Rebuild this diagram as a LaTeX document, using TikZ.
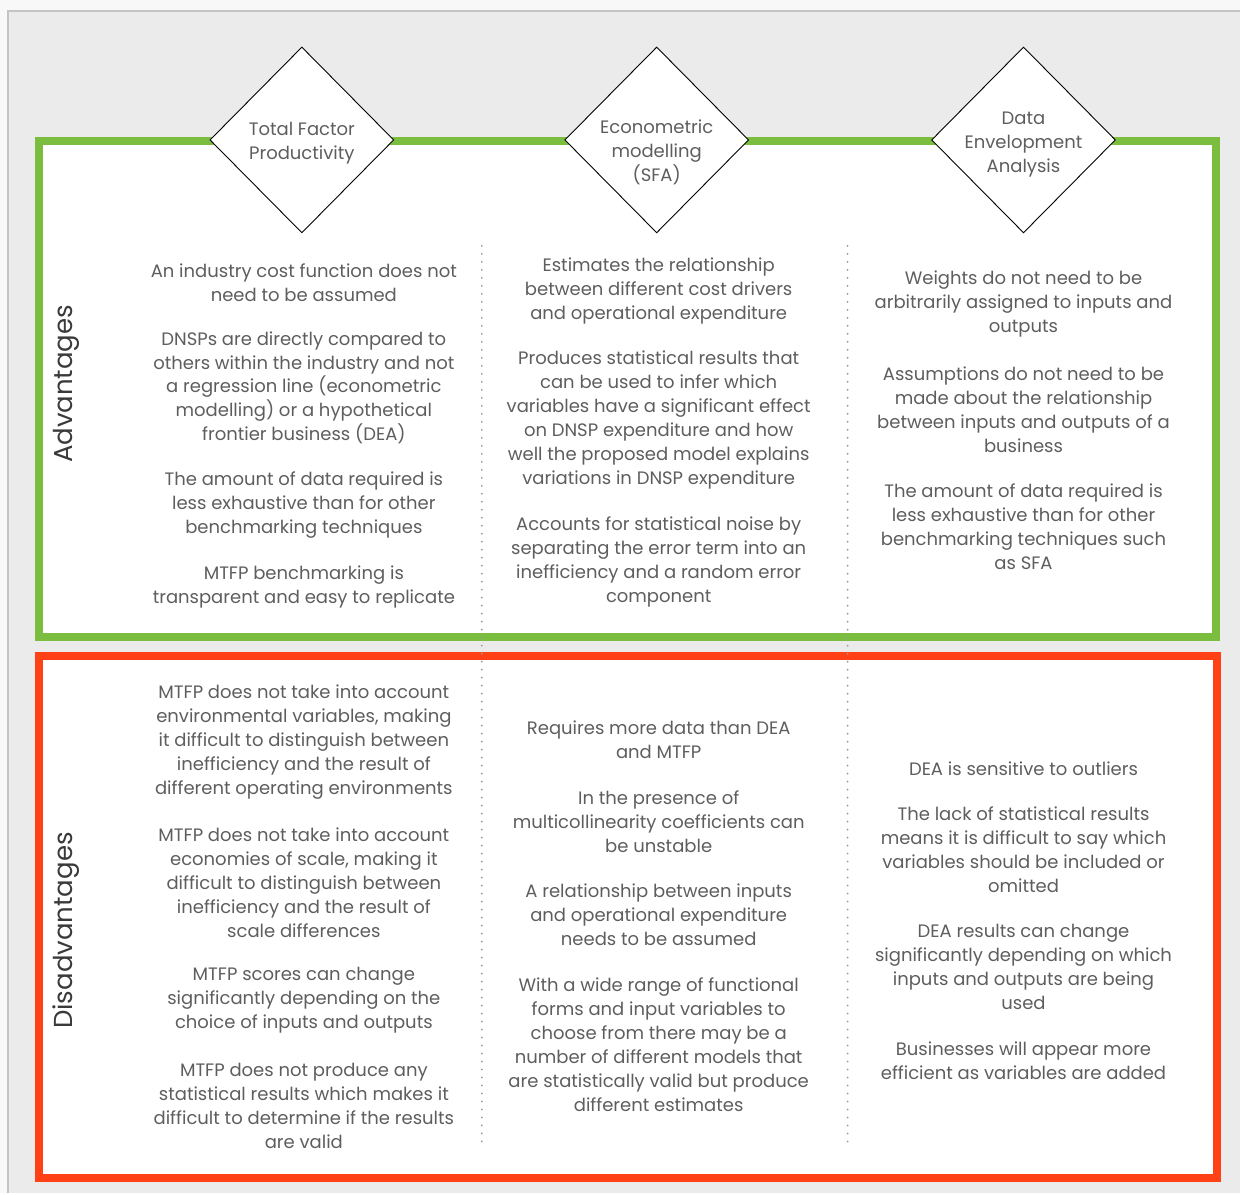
\documentclass[tikz,border=0pt]{standalone}
\usepackage{fontspec}
\setmainfont{Poppins}
\usetikzlibrary{shapes.geometric}
\definecolor{advgreen}{HTML}{7ABD3F}
\definecolor{disred}{HTML}{FF4115}
\definecolor{panelgray}{HTML}{EBEBEB}
\definecolor{outergray}{HTML}{F8F8F8}
\definecolor{edgegray}{HTML}{C4C4C4}
\definecolor{txtgray}{HTML}{5E5E5E}
\definecolor{sidegray}{HTML}{3A3A3A}
\definecolor{dotgray}{HTML}{9A9A9A}
\begin{document}
\begin{tikzpicture}[x=1pt,y=-1pt,
  para/.style={align=center, text=txtgray, font=\fontsize{18}{24}\selectfont, inner sep=0pt},
  method/.style={diamond, draw=black, line width=0.9pt, fill=white, minimum width=184pt, minimum height=186pt, inner sep=0pt},
  methodtext/.style={align=center, text=txtgray, font=\fontsize{18}{24}\selectfont, inner sep=0pt},
  sidelabel/.style={rotate=90, text=sidegray, font=\fontsize{26}{30}\selectfont, inner sep=0pt},
  frame/.style={line width=8pt},
  sep/.style={dotgray, line width=2pt, line cap=round, dash pattern=on 0pt off 8pt}]
\fill[outergray] (0,0) rectangle (1241,1194);
\fill[panelgray] (8,11) rectangle (1241,1194);
\draw[edgegray, line width=1.2pt] (8,1194) -- (8,11) -- (1241,11);
\useasboundingbox (0,0) rectangle (1241,1194);

% frames
\filldraw[fill=white, draw=advgreen, frame] (39,141) rectangle (1217,637);
\filldraw[fill=white, draw=disred, frame] (39,656) rectangle (1218,1179);

% separators
\coordinate (s1top) at (482,246);
\coordinate (s1bot) at (482,1146);
\coordinate (s2top) at (848,246);
\coordinate (s2bot) at (848,1146);
\draw[sep] (s1top) -- (s1bot);
\draw[sep] (s2top) -- (s2bot);

% method diamonds
\node[method] (tfp) at (302,140) {};
\node[methodtext] (tfpl) at (302,143) {Total Factor\\Productivity};
\node[method] (econ) at (657,140) {};
\node[methodtext] (econl) at (657,152) {Econometric\\modelling\\(SFA)};
\node[method] (dea) at (1024,140) {};
\node[methodtext] (deal) at (1024,145) {Data\\Envelopment\\Analysis};

% side labels
\node[sidelabel] (adv) at (66,384) {Advantages};
\node[sidelabel] (dis) at (66,931) {Disadvantages};

% advantages
\node[para] (a11) at (304,283) {An industry cost function does not\\need to be assumed};
\node[para] (a12) at (304,388) {DNSPs are directly compared to\\others within the industry and not\\a regression line (econometric\\modelling) or a hypothetical\\frontier business (DEA)};
\node[para] (a13) at (304,505) {The amount of data required is\\less exhaustive than for other\\benchmarking techniques};
\node[para] (a14) at (304,587) {MTFP benchmarking is\\transparent and easy to replicate};

\node[para] (a21) at (659,291) {Estimates the relationship\\between different cost drivers\\and operational expenditure};
\node[para] (a22) at (659,420) {Produces statistical results that\\can be used to infer which\\variables have a significant effect\\on DNSP expenditure and how\\well the proposed model explains\\variations in DNSP expenditure};
\node[para] (a23) at (659,562) {Accounts for statistical noise by\\separating the error term into an\\inefficiency and a random error\\component};

\node[para] (a31) at (1024,304) {Weights do not need to be\\arbitrarily assigned to inputs and\\outputs};
\node[para] (a32) at (1024,410) {Assumptions do not need to be\\made about the relationship\\between inputs and outputs of a\\business};
\node[para] (a33) at (1024,527) {The amount of data required is\\less exhaustive than for other\\benchmarking techniques such\\as SFA};

% disadvantages
\node[para] (d11) at (304,742) {MTFP does not take into account\\environmental variables, making\\it difficult to distinguish between\\inefficiency and the result of\\different operating environments};
\node[para] (d12) at (304,883) {MTFP does not take into account\\economies of scale, making it\\difficult to distinguish between\\inefficiency and the result of\\scale differences};
\node[para] (d13) at (304,1001) {MTFP scores can change\\significantly depending on the\\choice of inputs and outputs};
\node[para] (d14) at (304,1106) {MTFP does not produce any\\statistical results which makes it\\difficult to determine if the results\\are valid};

\node[para] (d21) at (659,740) {Requires more data than DEA\\and MTFP};
\node[para] (d22) at (659,822) {In the presence of\\multicollinearity coefficients can\\be unstable};
\node[para] (d23) at (659,915) {A relationship between inputs\\and operational expenditure\\needs to be assumed};
\node[para] (d24) at (659,1045) {With a wide range of functional\\forms and input variables to\\choose from there may be a\\number of different models that\\are statistically valid but produce\\different estimates};

\node[para] (d31) at (1024,769) {DEA is sensitive to outliers};
\node[para] (d32) at (1024,850) {The lack of statistical results\\means it is difficult to say which\\variables should be included or\\omitted};
\node[para] (d33) at (1024,967) {DEA results can change\\significantly depending on which\\inputs and outputs are being\\used};
\node[para] (d34) at (1024,1061) {Businesses will appear more\\efficient as variables are added};
\end{tikzpicture}
\end{document}
